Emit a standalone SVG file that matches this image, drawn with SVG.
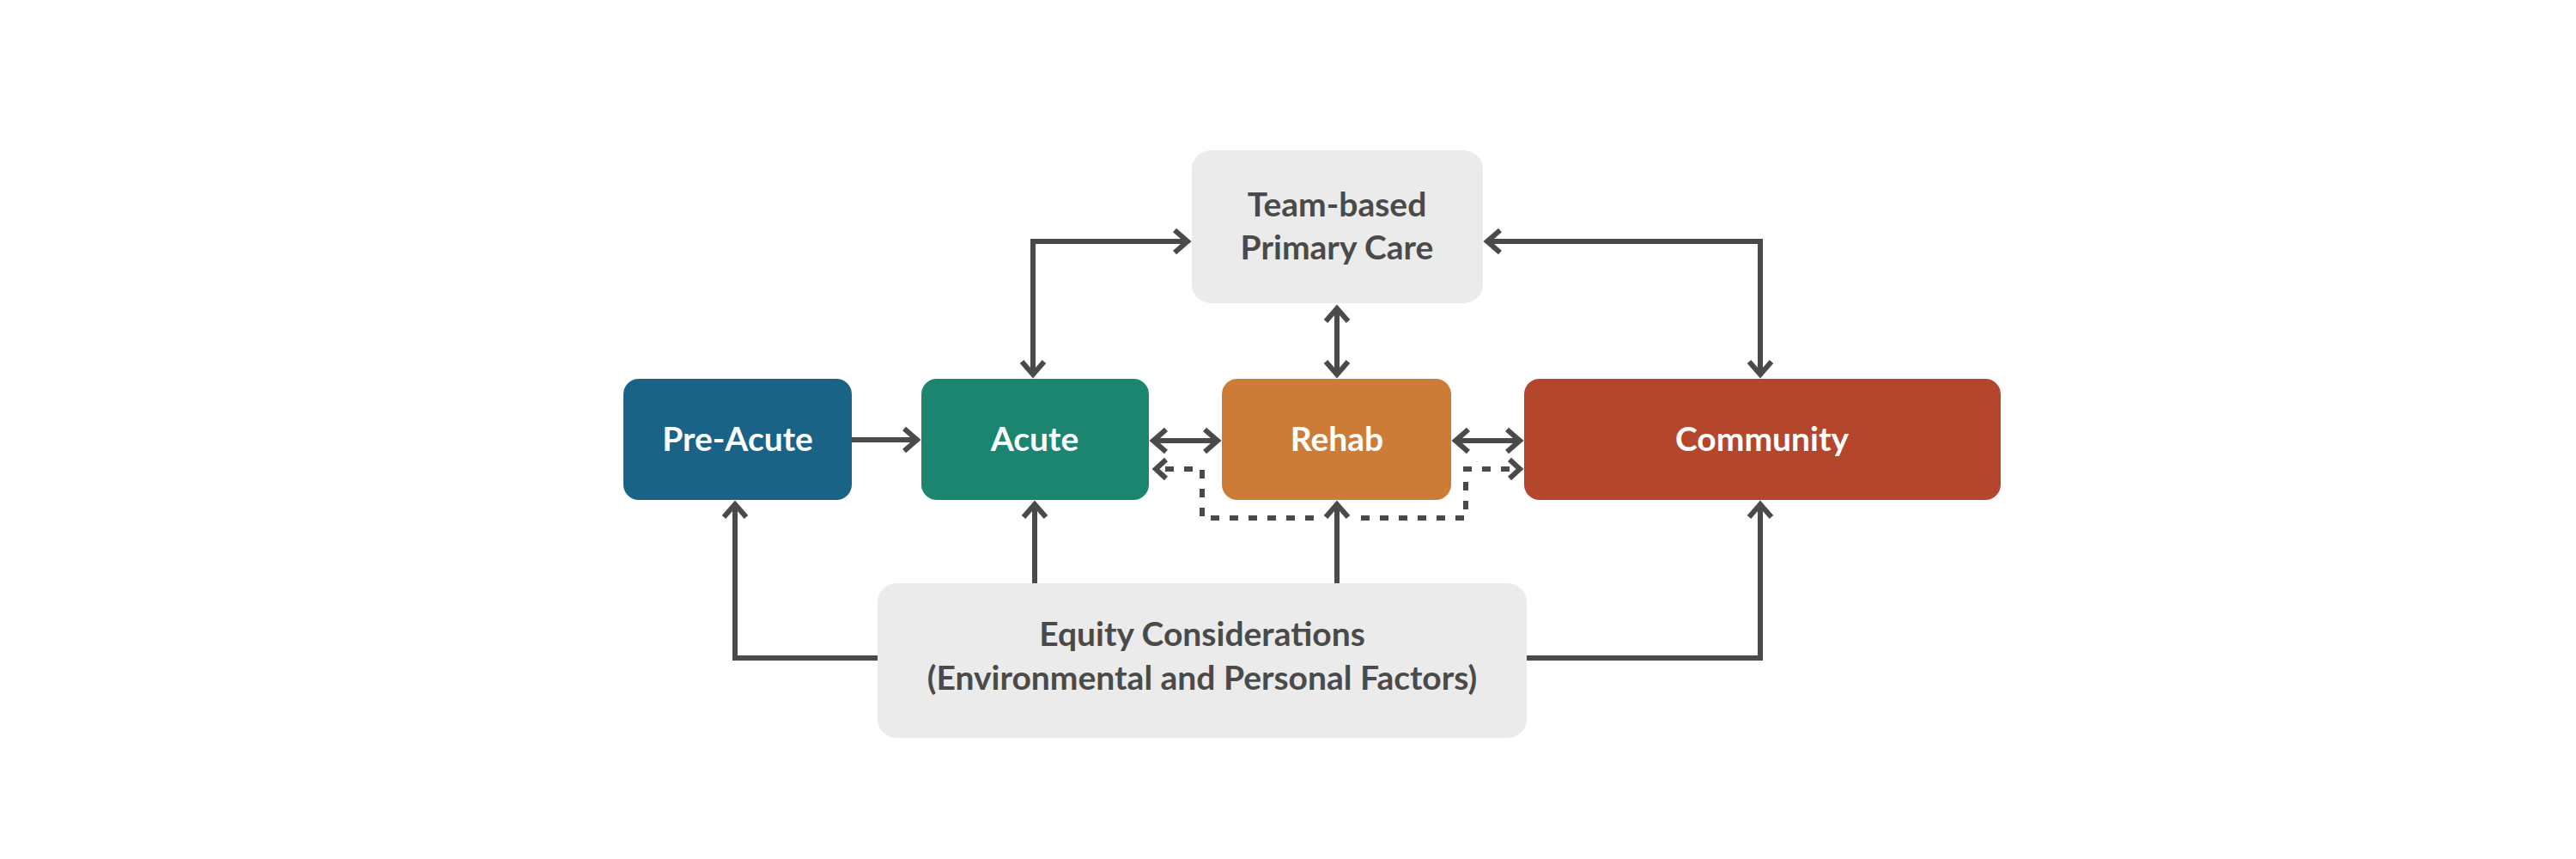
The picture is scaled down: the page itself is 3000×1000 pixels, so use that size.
<svg xmlns="http://www.w3.org/2000/svg" width="3000" height="1000" viewBox="0 0 3000 1000">
  <style>
    .box { stroke: none; }
    .lbl { font-family: Lato, "Open Sans", "Liberation Sans", sans-serif; font-weight: 700; font-size: 39px; text-anchor: middle; }
    .w { fill: #ffffff; }
    .g { fill: #4a4a4a; }
    .conn { fill: none; stroke: #4a4a4a; stroke-width: 6; stroke-linejoin: miter; }
    .dash { fill: none; stroke: #4a4a4a; stroke-width: 6; stroke-dasharray: 10 12; }
  </style>
  <defs>
    <marker id="ah" markerUnits="userSpaceOnUse" viewBox="-20 -20 30 40" markerWidth="30" markerHeight="40" refX="0" refY="0" orient="auto-start-reverse" overflow="visible">
      <path d="M-15,-13 L0,0 L-15,13" fill="none" stroke="#4a4a4a" stroke-width="6" stroke-dasharray="none" stroke-linejoin="miter"/>
    </marker>
    <marker id="ahs" markerUnits="userSpaceOnUse" viewBox="-20 -20 30 40" markerWidth="30" markerHeight="40" refX="0" refY="0" orient="auto-start-reverse" overflow="visible">
      <path d="M-12,-11 L0,0 L-12,11" fill="none" stroke="#4a4a4a" stroke-width="6" stroke-dasharray="none" stroke-linejoin="miter"/>
    </marker>
  </defs>
  <rect width="3000" height="1000" fill="#ffffff"/>

  <g id="connectors">
    <path class="conn" d="M992,512 H1068" marker-end="url(#ah)"/>
    <path class="conn" d="M1343,513 H1418" marker-start="url(#ah)" marker-end="url(#ah)"/>
    <path class="conn" d="M1695,513 H1770" marker-start="url(#ah)" marker-end="url(#ah)"/>
    <path class="dash" d="M1530,603 H1400 V546 H1346" marker-end="url(#ahs)"/>
    <path class="dash" d="M1585,603 H1707 V546 H1770" marker-end="url(#ahs)"/>
    <path class="conn" d="M1383,281 H1203 V436" marker-start="url(#ah)" marker-end="url(#ah)"/>
    <path class="conn" d="M1732,281 H2050 V436" marker-start="url(#ah)" marker-end="url(#ah)"/>
    <path class="conn" d="M1557,359 V436" marker-start="url(#ah)" marker-end="url(#ah)"/>
    <path class="conn" d="M1022,766 H856 V587" marker-end="url(#ah)"/>
    <path class="conn" d="M1205,679 V587" marker-end="url(#ah)"/>
    <path class="conn" d="M1557,679 V587" marker-end="url(#ah)"/>
    <path class="conn" d="M1778,766 H2050 V587" marker-end="url(#ah)"/>
  </g>

  <g id="team-primary-care">
    <rect class="box" x="1388" y="175" width="339" height="178" rx="22" fill="#ebebeb"/>
    <text class="lbl g" x="1557" y="252">Team-based</text>
    <text class="lbl g" x="1557" y="302">Primary Care</text>
  </g>
  <g id="pre-acute">
    <rect class="box" x="726" y="441" width="266" height="141" rx="18" fill="#1a6286"/>
    <text class="lbl w" x="859" y="525">Pre-Acute</text>
  </g>
  <g id="acute">
    <rect class="box" x="1073" y="441" width="265" height="141" rx="18" fill="#1b8570"/>
    <text class="lbl w" x="1205" y="525">Acute</text>
  </g>
  <g id="rehab">
    <rect class="box" x="1423" y="441" width="267" height="141" rx="18" fill="#cd7c38"/>
    <text class="lbl w" x="1557" y="525">Rehab</text>
  </g>
  <g id="community">
    <rect class="box" x="1775" y="441" width="555" height="141" rx="18" fill="#b4462b"/>
    <text class="lbl w" x="2052" y="525">Community</text>
  </g>
  <g id="equity">
    <rect class="box" x="1022" y="679" width="756" height="180" rx="22" fill="#ebebeb"/>
    <text class="lbl g" x="1400" y="752">Equity Considerations</text>
    <text class="lbl g" x="1400" y="803">(Environmental and Personal Factors)</text>
  </g>
</svg>
